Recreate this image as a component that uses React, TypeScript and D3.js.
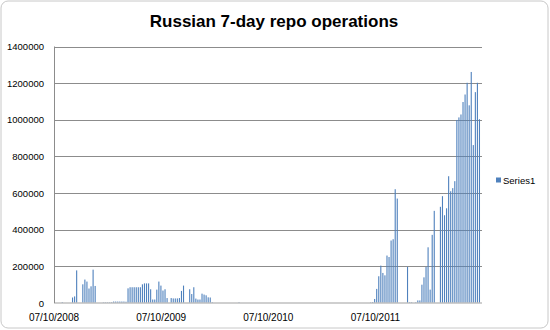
import React from "react";
import * as d3 from "d3";

const title = "Russian 7-day repo operations";
const seriesName = "Series1";
const startDate = new Date(2008, 9, 7);
const endDate = new Date(2012, 8, 27);
const yTicks = [0, 200000, 400000, 600000, 800000, 1000000, 1200000, 1400000];
const xTickDates = [new Date(2008, 9, 7), new Date(2009, 9, 7), new Date(2010, 9, 7), new Date(2011, 9, 7)];

// weekly 7-day repo operations, one value per week from 07/10/2008
const weeklyValues = [
  0, 0, 0, 0, 5000, 0, 0, 0, 0, 30000,
  36000, 178000, 0, 0, 102000, 128000, 117000, 79000, 91000, 182000,
  93000, 0, 0, 0, 3000, 3000, 3000, 3000, 4000, 8000,
  8000, 8000, 8000, 8000, 8000, 7000, 80000, 86000, 86000, 86000,
  86000, 86000, 86000, 102000, 107000, 107000, 107000, 75000, 19000, 19000,
  73000, 117000, 95000, 68000, 75000, 27000, 0, 27000, 25000, 25000,
  25000, 27000, 66000, 95000, 0, 0, 75000, 49000, 86000, 24000,
  19000, 19000, 51000, 46000, 42000, 31000, 30000, 4000, 0, 0,
  0, 0, 0, 0, 0, 0, 0, 0, 0, 0,
  4000, 0, 0, 0, 0, 0, 0, 0, 0, 0,
  0, 0, 0, 0, 0, 0, 0, 0, 0, 0,
  0, 0, 0, 0, 0, 0, 0, 0, 0, 0,
  0, 0, 0, 0, 0, 0, 0, 0, 0, 0,
  0, 0, 0, 0, 0, 0, 0, 0, 0, 0,
  0, 0, 0, 0, 0, 0, 0, 0, 0, 0,
  0, 0, 0, 0, 3000, 5000, 22000, 77000, 146000, 204000,
  164000, 151000, 259000, 251000, 341000, 348000, 621000, 570000, 0, 0,
  0, 0, 197000, 4000, 4000, 0, 4000, 14000, 14000, 100000,
  140000, 197000, 304000, 73000, 372000, 503000, 0, 0, 525000, 583000,
  479000, 517000, 692000, 610000, 627000, 665000, 999000, 1013000, 1029000, 1097000,
  1138000, 1202000, 1079000, 1261000, 862000, 1151000, 1202000, 1003000,
];

const W = 550;
const H = 330;
const plotLeft = 54;
const plotRight = 480;
const plotTop = 46.5;
const plotBottom = 303;
const barColor = "#4F81BD";
const font = "'Liberation Sans', Arial, sans-serif";

export default function App() {
  const x = d3.scaleTime().domain([startDate, endDate]).range([plotLeft, plotRight]);
  const y = d3.scaleLinear().domain([0, 1400000]).range([plotBottom, plotTop]);
  const fmt = d3.timeFormat("%d/%m/%Y");
  const data = weeklyValues.map((v, i) => ({ date: d3.timeDay.offset(startDate, 7 * i), value: v }));

  return (
    <svg width={W} height={H} style={{ position: "absolute", left: 0, top: 0, background: "#fff" }}>
      <rect x={1} y={1} width={W - 3} height={H - 3} rx={7} fill="#fff" stroke="#c8c8c8" strokeWidth={1} />
      <text x={274} y={27} textAnchor="middle" fontFamily={font} fontWeight="bold" fontSize={17} fill="#000">
        {title}
      </text>
      {yTicks.map((t) =>
        t === 0 ? null : (
          <line key={"g" + t} x1={plotLeft} x2={plotRight + 2} y1={Math.round(y(t)) + 0.5} y2={Math.round(y(t)) + 0.5} stroke="#8c8c8c" strokeWidth={1} />
        )
      )}
      {yTicks.map((t) => (
        <text key={"yt" + t} x={44} y={y(t) + 3.5} textAnchor="end" fontFamily={font} fontSize={9.5} fill="#000">
          {t}
        </text>
      ))}
      {data
        .filter((d) => d.value > 0)
        .map((d, i) => (
          <rect key={"b" + i} x={x(d.date) - 0.5} y={y(d.value)} width={1.1} height={plotBottom - y(d.value)} fill={barColor} />
        ))}
      <line x1={plotLeft} x2={plotRight + 2} y1={plotBottom} y2={plotBottom} stroke="#bfbfbf" strokeWidth={1.5} />
      <line x1={plotLeft + 0.5} x2={plotLeft + 0.5} y1={plotTop} y2={plotBottom} stroke="#8c8c8c" strokeWidth={1} />
      {xTickDates.map((d, i) => (
        <text key={"xt" + i} x={x(d)} y={320.5} textAnchor="middle" fontFamily={font} fontSize={10} fill="#000">
          {fmt(d)}
        </text>
      ))}
      <rect x={496} y={177.5} width={5} height={5} fill={barColor} />
      <text x={503} y={184} fontFamily={font} fontSize={9.5} fill="#000">
        {seriesName}
      </text>
    </svg>
  );
}
